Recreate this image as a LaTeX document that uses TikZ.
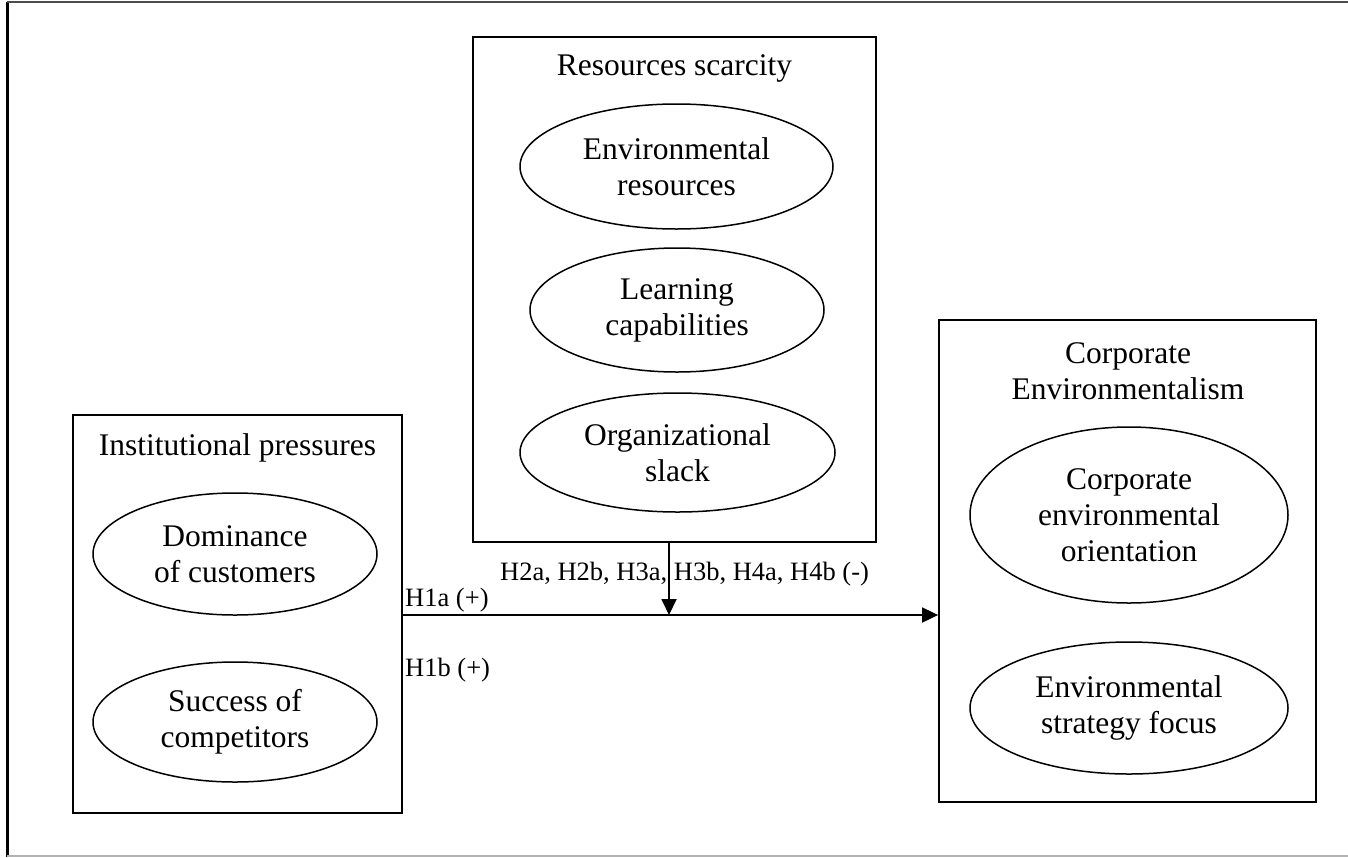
\documentclass[tikz,border=0pt]{standalone}
\usepackage{fontspec}
\setmainfont{Liberation Serif}
\usetikzlibrary{arrows.meta,shapes.geometric}
\begin{document}
\begin{tikzpicture}[x=1pt,y=-1pt,
  box/.style={draw,line width=1.8pt,inner sep=0pt},
  ell/.style={draw,ellipse,line width=1.5pt,inner sep=0pt,align=center,
    font=\fontsize{31.5}{36}\selectfont},
  ttl/.style={inner sep=0pt,align=center,font=\fontsize{31.5}{36}\selectfont},
  lbl/.style={inner sep=0pt,anchor=west,font=\fontsize{26.5}{32}\selectfont},
  arr/.style={line width=1.8pt,-{Triangle[length=16pt,width=15pt]}}]
\useasboundingbox (0,0) rectangle (1348,857);
% page frame
\draw[line width=3pt] (7,857) -- (7,1.5);
\draw[line width=2pt,black!70] (7,1.5) -- (1348,1.5);
\draw[line width=2pt,black!30] (7,856) -- (1348,856);

% construct boxes
\node[box,minimum width=403pt,minimum height=505pt] (res) at (674.5,289.5) {};
\node[box,minimum width=329pt,minimum height=398pt] (inst) at (237.5,614) {};
\node[box,minimum width=377pt,minimum height=482pt] (corp) at (1127.5,561) {};

% box titles
\node[ttl] (resT) at (674.5,68) {Resources scarcity};
\node[ttl] (instT) at (237.5,448) {Institutional pressures};
\node[ttl] (corpT) at (1128,371) {Corporate\\Environmentalism};

% dimensions
\node[ell,minimum width=313pt,minimum height=125pt] (envres) at (676.5,166.5) {Environmental\\resources};
\node[ell,minimum width=294pt,minimum height=124pt] (learn) at (677,310) {Learning\\capabilities};
\node[ell,minimum width=315pt,minimum height=119pt] (slack) at (677.5,452.5) {Organizational\\slack};
\node[ell,minimum width=284pt,minimum height=122pt] (dom) at (235,554) {Dominance\\of customers};
\node[ell,minimum width=284pt,minimum height=120pt] (succ) at (235,722) {Success of\\competitors};
\node[ell,minimum width=318pt,minimum height=176pt] (ceo) at (1129,515) {Corporate\\environmental\\orientation};
\node[ell,minimum width=318pt,minimum height=132pt] (esf) at (1129,708) {Environmental\\strategy focus};

% paths
\coordinate (start) at (inst.east |- 0,615);
\coordinate (join) at (669,615);
\draw[arr] (start) -- (start -| corp.west);
\draw[arr] (res.south -| join) -- (join);

% hypothesis labels
\node[lbl] (h2) at (500,574) {H2a, H2b, H3a, H3b, H4a, H4b (-)};
\node[lbl] (h1a) at (405,600) {H1a (+)};
\node[lbl] (h1b) at (405,670) {H1b (+)};
\end{tikzpicture}
\end{document}
